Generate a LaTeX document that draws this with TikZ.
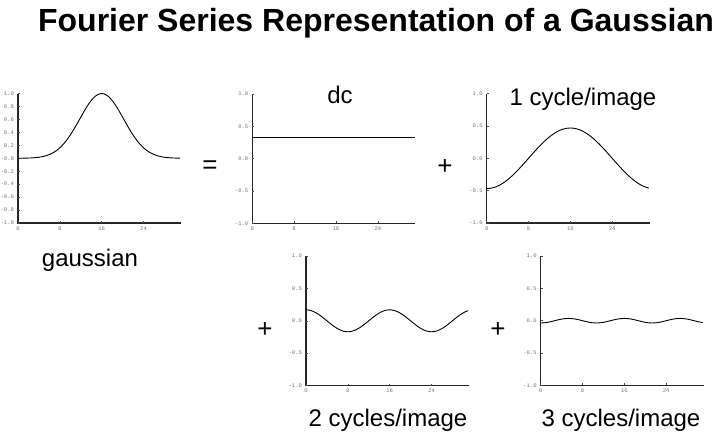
\documentclass[tikz,border=0pt]{standalone}
\usepackage{fontspec}
\setmainfont{Liberation Sans}
\newfontfamily\tickfont{Liberation Mono}
\newcommand{\fsaxes}[2]{%
  \draw[axisline] (0,1) coordinate (#1-top) -- (0,-1) coordinate (#1-org) -- (31.2,-1) coordinate (#1-end);
  \foreach \v/\t [count=\i] in {#2} {
    \draw[tickmark] (0,\v) -- ++(0.35,0);
    \node[ticklbl, anchor=east] (#1-y\i) at (-0.75,\v) {\t};
  }
  \foreach \v [count=\i] in {0,8,16,24} {
    \draw[tickmark] (\v,-1) -- ++(0,0.03);
    \node[ticklbl, anchor=north] (#1-x\i) at (\v,-1.05) {\v};
  }
}
\begin{document}
\begin{tikzpicture}[x=1pt,y=-1pt,
  ticklbl/.style={font=\tickfont\fontsize{5.5}{6}\selectfont, text=black!55, inner sep=0pt},
  axisline/.style={line width=1.1pt, black!85},
  tickmark/.style={line width=0.5pt, black!70},
  curve/.style={line width=0.9pt, black},
  lbl/.style={font=\fontsize{24}{28}\selectfont, inner sep=0pt, anchor=base},
  op/.style={font=\fontsize{26}{28}\selectfont, inner sep=0pt},
  plotarea/.style={x=5.23pt, y=64.7pt}]
\useasboundingbox (0,0) rectangle (721,433);

\node[font=\bfseries\fontsize{32}{36}\selectfont, anchor=base, inner sep=0pt] (title) at (376,32) {Fourier Series Representation of a Gaussian};

% gaussian
\begin{scope}[shift={(18,158.3)}, plotarea]
  \fsaxes{g}{1/1.0,0.8/0.8,0.6/0.6,0.4/0.4,0.2/0.2,0/-0.0,-0.2/-0.2,-0.4/-0.4,-0.6/-0.6,-0.8/-0.8,-1/-1.0}
  \draw[curve] plot[domain=0:31, samples=140, smooth] (\x,{exp(-(\x-16)^2/35.28)});
\end{scope}

% dc
\begin{scope}[shift={(252.3,158.7)}, plotarea]
  \fsaxes{d}{1/1.0,0.5/0.5,0/0.0,-0.5/-0.5,-1/-1.0}
  \draw[curve] (0,0.33) coordinate (dcA) -- (31.2,0.33) coordinate (dcB);
\end{scope}

% 1 cycle
\begin{scope}[shift={(486.7,158.3)}, plotarea]
  \fsaxes{c}{1/1.0,0.5/0.5,0/0.0,-0.5/-0.5,-1/-1.0}
  \draw[curve] plot[domain=0:31, samples=140, smooth] (\x,{-0.468*cos(11.25*\x)});
\end{scope}

% 2 cycles
\begin{scope}[shift={(306,320.8)}, plotarea]
  \fsaxes{e}{1/1.0,0.5/0.5,0/0.0,-0.5/-0.5,-1/-1.0}
  \draw[curve] plot[domain=0:31, samples=140, smooth] (\x,{0.169*cos(22.5*\x)});
\end{scope}

% 3 cycles
\begin{scope}[shift={(540.7,320.7)}, plotarea]
  \fsaxes{f}{1/1.0,0.5/0.5,0/0.0,-0.5/-0.5,-1/-1.0}
  \draw[curve] plot[domain=0:31, samples=140, smooth] (\x,{-0.035*cos(33.75*\x)});
\end{scope}

\node[lbl] (ldc) at (340,103.5) {dc};
\node[lbl] (l1) at (583,106) {1 cycle/image};
\node[lbl] (lg) at (90,266) {gaussian};
\node[lbl] (l2) at (388,426) {2 cycles/image};
\node[lbl] (l3) at (621,426) {3 cycles/image};

\node[op] (eq) at (210,167) {=};
\node[op] (p1) at (445,167) {+};
\node[op] (p2) at (265,330) {+};
\node[op] (p3) at (498,330) {+};
\end{tikzpicture}
\end{document}
